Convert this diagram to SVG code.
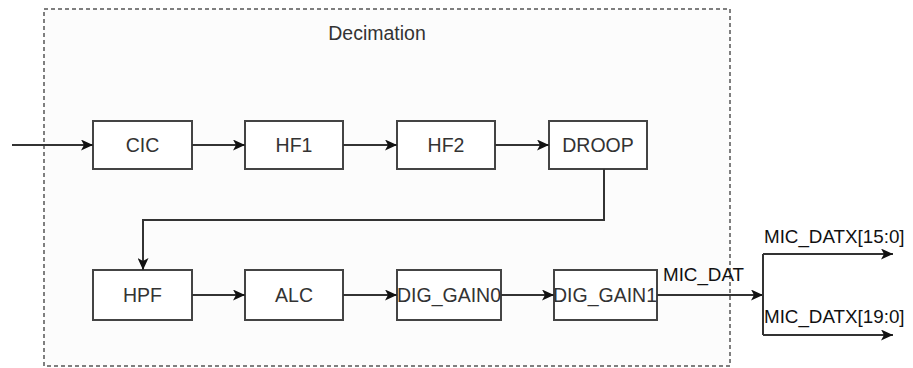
<svg xmlns="http://www.w3.org/2000/svg" width="913" height="368" viewBox="0 0 913 368">
<defs>
<marker id="ah" viewBox="0 0 10 10" refX="10" refY="5" markerWidth="12" markerHeight="11" markerUnits="userSpaceOnUse" orient="auto" preserveAspectRatio="none">
<path d="M0,0 L10,5 L0,10 L2.5,5 Z" fill="#111"/>
</marker>
<style>
.box{fill:#fff;stroke:#444;stroke-width:2}
.t{font-family:"Liberation Sans",Arial,sans-serif;font-size:19.5px;fill:#333;text-anchor:middle}
.lbl{font-family:"Liberation Sans",Arial,sans-serif;font-size:18.8px;fill:#111}
.c{fill:none;stroke:#333;stroke-width:2}
.ca{fill:none;stroke:#333;stroke-width:2;marker-end:url(#ah)}
</style>
</defs>
<rect width="913" height="368" fill="#fff"/>
<g id="decimation">
<rect x="44" y="9" width="686" height="357" fill="#fcfcfc" stroke="#555" stroke-width="1.5" stroke-dasharray="4 3"/>
<text class="t" x="377" y="40">Decimation</text>
</g>
<g id="cic"><rect class="box" x="93" y="121" width="99" height="48"/><text class="t" x="142.5" y="152">CIC</text></g>
<g id="hf1"><rect class="box" x="245" y="121" width="98" height="48"/><text class="t" x="294" y="152">HF1</text></g>
<g id="hf2"><rect class="box" x="397" y="121" width="98" height="48"/><text class="t" x="446" y="152">HF2</text></g>
<g id="droop"><rect class="box" x="549" y="121" width="98" height="48"/><text class="t" x="598" y="152">DROOP</text></g>
<g id="hpf"><rect class="box" x="93" y="270" width="99" height="50"/><text class="t" x="142.5" y="302">HPF</text></g>
<g id="alc"><rect class="box" x="245" y="270" width="98" height="50"/><text class="t" x="294" y="302">ALC</text></g>
<g id="dig_gain0"><rect class="box" x="397" y="270" width="104" height="50"/><text class="t" x="449" y="302">DIG_GAIN0</text></g>
<g id="dig_gain1"><rect class="box" x="554" y="270" width="103" height="50"/><text class="t" x="605" y="302">DIG_GAIN1</text></g>
<g id="connectors">
<path class="ca" d="M12,145 H93"/>
<path class="ca" d="M192,145 H245"/>
<path class="ca" d="M343,145 H397"/>
<path class="ca" d="M495,145 H549"/>
<path class="ca" d="M604,169 V220 H143 V270"/>
<path class="ca" d="M192,295 H245"/>
<path class="ca" d="M343,295 H397"/>
<path class="ca" d="M501,295 H554"/>
<path class="ca" d="M657,295 H763"/>
<path class="c" d="M763,254 V335"/>
<path class="ca" d="M763,254 H893"/>
<path class="ca" d="M763,335 H893"/>
<text class="lbl" x="663" y="281">MIC_DAT</text>
<text class="lbl" x="764" y="243">MIC_DATX[15:0]</text>
<text class="lbl" x="764" y="323">MIC_DATX[19:0]</text>
</g>
</svg>
